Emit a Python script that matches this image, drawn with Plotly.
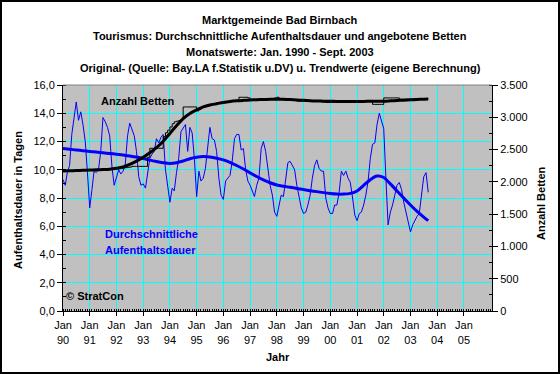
import pandas as pd
import plotly.graph_objects as go

# ---------------- data ----------------
months = pd.date_range("1990-01-01", periods=165, freq="MS")
trend_dates = list(pd.date_range("1990-01-01", "2003-07-01", freq="QS")) + [pd.Timestamp("2003-09-01")]

dauer = [
    9.3, 8.9, 9.8, 10.3, 12.5, 13.8, 14.8, 13.5, 14.1, 13.2, 12.0, 9.8,   # 1990
    7.3, 8.6, 9.9, 9.8, 10.0, 11.3, 13.7, 13.4, 13.0, 12.4, 10.2, 8.9,    # 1991
    9.4, 10.0, 9.7, 9.9, 10.4, 12.4, 13.3, 12.9, 12.4, 11.3, 9.5, 8.9,    # 1992
    9.0, 8.7, 9.6, 10.8, 11.1, 11.3, 12.2, 11.9, 12.3, 12.5, 10.0, 8.9,   # 1993
    7.7, 8.7, 8.5, 9.8, 10.8, 12.7, 13.0, 13.2, 11.3, 13.0, 12.6, 10.8,   # 1994
    8.1, 9.9, 9.2, 9.4, 10.1, 11.5, 13.0, 12.2, 12.1, 11.3, 9.4, 8.2,     # 1995
    7.9, 9.2, 9.4, 9.6, 10.6, 12.2, 12.5, 12.5, 11.4, 11.5, 10.0, 9.2,    # 1996
    8.9, 8.4, 8.1, 8.9, 9.4, 11.5, 12.0, 11.3, 10.1, 8.9, 8.2, 7.0,       # 1997
    6.7, 7.5, 8.2, 8.1, 9.2, 10.5, 10.6, 10.3, 10.0, 8.9, 8.0, 7.3,       # 1998
    6.9, 7.0, 7.5, 8.2, 9.4, 10.3, 10.7, 10.1, 9.9, 9.9, 8.0, 7.3,        # 1999
    6.9, 6.9, 7.5, 7.5, 8.4, 9.9, 9.6, 9.9, 9.4, 9.1, 8.0, 6.8,           # 2000
    6.4, 6.9, 7.0, 7.5, 8.2, 9.2, 10.8, 11.8, 11.9, 13.2, 14.0, 13.5,     # 2001
    12.9, 9.2, 6.1, 7.0, 7.5, 8.2, 8.9, 9.1, 8.6, 7.7, 7.0, 6.1,          # 2002
    5.6, 6.1, 6.4, 6.7, 6.9, 8.2, 9.5, 9.8, 8.4,                          # 2003
]

betten = [
    2170, 2170, 2170, 2175, 2175, 2175, 2180, 2180, 2180, 2180, 2180, 2180,
    2180, 2185, 2185, 2185, 2190, 2190, 2190, 2190, 2195, 2195, 2195, 2200,
    2200, 2205, 2210, 2215, 2220, 2225, 2230, 2240, 2240, 2240, 2240, 2240,
    2240, 2240, 2380, 2520, 2520, 2520, 2520, 2520, 2520, 2700, 2760, 2800,
    2850, 2900, 2930, 2940, 2950, 2960, 3160, 3160, 3160, 3160, 3160, 3160,
    3100, 3120, 3150, 3170, 3180, 3190, 3200, 3200, 3210, 3220, 3220, 3230,
    3230, 3235, 3240, 3240, 3245, 3250, 3250, 3310, 3310, 3310, 3310, 3300,
    3270, 3270, 3275, 3275, 3280, 3280, 3285, 3285, 3290, 3290, 3290, 3300,
    3310, 3290, 3280, 3270, 3270, 3265, 3260, 3260, 3260, 3250, 3250, 3250,
    3250, 3250, 3250, 3245, 3245, 3245, 3245, 3245, 3240, 3240, 3230, 3230,
    3230, 3230, 3240, 3240, 3245, 3245, 3245, 3245, 3245, 3245, 3245, 3245,
    3245, 3245, 3245, 3245, 3245, 3245, 3245, 3200, 3200, 3200, 3200, 3200,
    3300, 3300, 3300, 3300, 3300, 3300, 3300, 3280, 3280, 3280, 3280, 3280,
    3280, 3285, 3285, 3285, 3290, 3290, 3290, 3290, 3290,
]

dauer_trend = [
    11.5, 11.45, 11.4, 11.35,
    11.3, 11.25, 11.2, 11.15,
    11.1, 11.05, 10.98, 10.9,
    10.8, 10.68, 10.58, 10.5,
    10.45, 10.5, 10.62, 10.78,
    10.88, 10.93, 10.9, 10.82,
    10.7, 10.52, 10.3, 10.05,
    9.78, 9.52, 9.28, 9.08,
    8.92, 8.83, 8.76, 8.68,
    8.6, 8.52, 8.45, 8.38,
    8.32, 8.28, 8.28, 8.33,
    8.5, 8.9, 9.3, 9.55,
    9.45, 9.0, 8.5, 8.0,
    7.5, 7.05, 6.65, 6.4,
]

betten_trend = [
    2170, 2172, 2175, 2178,
    2182, 2186, 2190, 2196,
    2210, 2230, 2270, 2320,
    2380, 2450, 2530, 2630,
    2750, 2870, 2980, 3060,
    3115, 3160, 3190, 3210,
    3230, 3245, 3255, 3262,
    3268, 3272, 3276, 3278,
    3280, 3278, 3274, 3268,
    3262, 3256, 3252, 3250,
    3248, 3246, 3245, 3245,
    3245, 3246, 3247, 3248,
    3250, 3255, 3260, 3265,
    3270, 3275, 3280, 3282,
]

year_ticks = list(pd.date_range("1990-01-01", "2005-01-01", freq="YS"))
year_labels = ["Jan<br>" + str(d.year % 100).zfill(2) for d in year_ticks]
left_vals = [0, 2, 4, 6, 8, 10, 12, 14, 16]
left_labels = ["0,0", "2,0", "4,0", "6,0", "8,0", "10,0", "12,0", "14,0", "16,0"]
right_vals = [0, 500, 1000, 1500, 2000, 2500, 3000, 3500]
right_labels = ["0", "500", "1.000", "1.500", "2.000", "2.500", "3.000", "3.500"]

# ---------------- layout helpers ----------------
W, H = 560, 374
L, R, T, B = 63, 68, 85, 63
PW, PH = W - L - R, H - T - B


def px(xp):
    return (xp - L) / PW


def py(yp):
    return (H - B - yp) / PH


FONT = "Liberation Sans, Arial, sans-serif"
BLUE = "#0000FF"

fig = go.Figure()
fig.add_trace(go.Scatter(x=months, y=dauer, mode="lines",
                         line=dict(color=BLUE, width=1), yaxis="y", hoverinfo="skip"))
fig.add_trace(go.Scatter(x=trend_dates, y=dauer_trend, mode="lines",
                         line=dict(color=BLUE, width=3, shape="spline", smoothing=0.8),
                         yaxis="y", hoverinfo="skip"))
fig.add_trace(go.Scatter(x=months, y=betten, mode="lines",
                         line=dict(color="black", width=1, shape="hv"), yaxis="y2", hoverinfo="skip"))
fig.add_trace(go.Scatter(x=trend_dates, y=betten_trend, mode="lines",
                         line=dict(color="black", width=3, shape="spline", smoothing=0.8),
                         yaxis="y2", hoverinfo="skip"))

tf = dict(family=FONT, size=11, color="black")

fig.update_layout(
    width=W, height=H,
    margin=dict(l=L, r=R, t=T, b=B, pad=0),
    paper_bgcolor="white",
    plot_bgcolor="#C0C0C0",
    showlegend=False,
    font=tf,
    xaxis=dict(
        type="date", range=["1990-01-01", "2006-01-19"],
        tickvals=year_ticks, ticktext=year_labels, tickfont=tf,
        showgrid=True, gridcolor="#00FFFF", gridwidth=1,
        showline=True, linecolor="black", linewidth=1,
        ticks="outside", ticklen=4, tickcolor="black",
        minor=dict(dtick="M1", tick0="1990-01-01", ticks="inside", ticklen=2,
                   tickcolor="black", showgrid=False),
        zeroline=False, fixedrange=True,
    ),
    yaxis=dict(
        range=[0, 16], tickvals=left_vals, ticktext=left_labels, tickfont=tf,
        showgrid=True, gridcolor="#00FFFF", gridwidth=1,
        showline=True, linecolor="black", linewidth=1,
        ticks="outside", ticklen=5, tickcolor="black",
        minor=dict(dtick=1, ticks="inside", ticklen=3, tickcolor="black", showgrid=False),
        zeroline=False, fixedrange=True,
    ),
    yaxis2=dict(
        range=[0, 3500], tickvals=right_vals, ticktext=right_labels, tickfont=tf,
        overlaying="y", side="right",
        showgrid=False, showline=True, linecolor="black", linewidth=1,
        ticks="outside", ticklen=5, tickcolor="black",
        minor=dict(dtick=250, ticks="inside", ticklen=3, tickcolor="black", showgrid=False),
        zeroline=False, fixedrange=True,
    ),
)

titles = [
    ("Marktgemeinde Bad Birnbach", 20),
    ("Tourismus: Durchschnittliche Aufenthaltsdauer und angebotene Betten", 36),
    ("Monatswerte: Jan. 1990 - Sept. 2003", 52),
    ("Original- (Quelle: Bay.LA f.Statistik u.DV) u. Trendwerte (eigene Berechnung)", 68),
]
ann = []
for txt, yp in titles:
    ann.append(dict(text="<b>" + txt + "</b>", x=px(280), y=py(yp), xref="paper", yref="paper",
                    xanchor="center", yanchor="middle", showarrow=False, font=tf))

ann += [
    dict(text="<b>Aufenthaltsdauer in Tagen</b>", x=px(18), y=py(200), textangle=-90),
    dict(text="<b>Anzahl Betten</b>", x=px(541), y=py(203), textangle=-90),
    dict(text="<b>Jahr</b>", x=px(278), y=py(357)),
]
for a in ann[-3:]:
    a.update(xref="paper", yref="paper", xanchor="center", yanchor="middle", showarrow=False, font=tf)

ann += [
    dict(text="<b>Anzahl Betten</b>", x=px(99), y=py(101), xanchor="left", font=tf),
    dict(text="<b>Durchschnittliche</b>", x=px(103), y=py(234),
         xanchor="left", font=dict(family=FONT, size=11, color=BLUE)),
    dict(text="<b>Aufenthaltsdauer</b>", x=px(103), y=py(250),
         xanchor="left", font=dict(family=FONT, size=11, color=BLUE)),
    dict(text="<b>© StratCon</b>", x=px(64), y=py(296), xanchor="left", font=tf),
]
for a in ann[-4:]:
    a.update(xref="paper", yref="paper", yanchor="middle", showarrow=False)

fig.update_layout(annotations=ann)

fig.update_layout(shapes=[
    dict(type="line", xref="paper", yref="paper", x0=0, x1=1, y0=1, y1=1,
         line=dict(color="#808080", width=1)),
    dict(type="rect", xref="paper", yref="paper",
         x0=px(1), x1=px(559), y0=py(373), y1=py(1),
         line=dict(color="black", width=2), fillcolor="rgba(0,0,0,0)", layer="above"),
])

fig.write_html("out.html", config={"displayModeBar": False},
               post_script="document.body.style.margin='0';document.body.style.overflow='hidden';")
